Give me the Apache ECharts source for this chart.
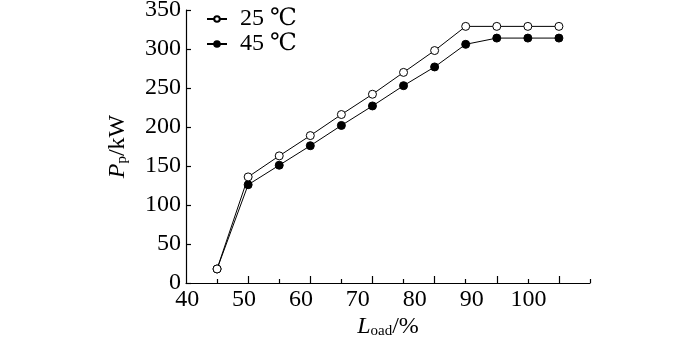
<!DOCTYPE html>
<html>
<head>
<meta charset="utf-8">
<script src="https://cdn.jsdelivr.net/npm/echarts@6/dist/echarts.min.js"></script>
<style>
  html, body { margin: 0; padding: 0; background: #fff; }
  #chart { width: 700px; height: 341px; }
</style>
</head>
<body>
<div id="chart"></div>
<script>
// Load levels (%) at which power was measured
const loads = [45, 50, 55, 60, 65, 70, 75, 80, 85, 90, 95, 100];
// Power P_p (kW) at ambient 25 ℃ and 45 ℃
const power25 = [18, 136, 163, 189, 216, 242, 270, 298, 329, 329, 329, 329];
const power45 = [18, 126, 151, 176, 202, 227, 253, 277, 306, 314, 314, 314];
// Printed tick labels along the load axis
const loadTickLabels = [40, 50, 60, 70, 80, 90, 100];
const longTicks = [50, 60, 70, 80, 90, 100];
const shortTicks = [45, 55, 65, 75, 85, 95, 105];
const seriesNames = ['25 ℃', '45 ℃'];

const FONT = 'Liberation Serif, DejaVu Serif, Noto Sans CJK SC, serif';
const chart = echarts.init(document.getElementById('chart'), null, { renderer: 'canvas' });

const pairs = arr => loads.map((x, i) => [x, arr[i]]);

chart.setOption({
  animation: false,
  backgroundColor: '#fff',
  textStyle: { fontFamily: FONT, color: '#000' },
  grid: { left: 186, right: 110, top: 10, bottom: 58, containLabel: false, outerBoundsMode: 'none' },
  legend: {
    orient: 'vertical',
    left: 201,
    top: 2,
    itemWidth: 20,
    itemHeight: 7,
    itemGap: 1,
    formatter: '{t|{name}}',
    textStyle: {
      fontFamily: FONT, fontSize: 24, lineHeight: 23, color: '#000',
      rich: { t: { fontFamily: FONT, fontSize: 24, lineHeight: 23, color: '#000', padding: [0, 0, 0, 8] } }
    },
    data: seriesNames
  },
  xAxis: [
    {
      type: 'value', min: 40, max: 105, interval: 5, position: 'bottom',
      axisLine: { show: true, lineStyle: { color: '#000', width: 1.2 } },
      axisTick: { show: true, inside: true, length: 7, customValues: longTicks, lineStyle: { color: '#000', width: 1.2 } },
      axisLabel: { show: false },
      splitLine: { show: false },
      name: '{i|L}{s|oad}{n|/%}',
      nameLocation: 'middle',
      nameGap: 31,
      nameTextStyle: {
        rich: {
          i: { fontFamily: FONT, fontStyle: 'italic', fontSize: 24, color: '#000' },
          s: { fontFamily: FONT, fontSize: 15, color: '#000', padding: [10, 0, 0, 0] },
          n: { fontFamily: FONT, fontSize: 24, color: '#000' }
        }
      }
    },
    {
      type: 'value', min: 40, max: 105, interval: 5, position: 'bottom', offset: 0,
      axisLine: { show: false },
      axisTick: { show: true, inside: true, length: 4, customValues: shortTicks, lineStyle: { color: '#000', width: 1.2 } },
      axisLabel: { show: false },
      splitLine: { show: false }
    },
    {
      type: 'value', min: 39.8, max: 110.8, position: 'bottom', offset: 0,
      axisLine: { show: false },
      axisTick: { show: false },
      axisLabel: {
        show: true, customValues: loadTickLabels, margin: 5,
        fontFamily: FONT, fontSize: 24, color: '#000'
      },
      splitLine: { show: false }
    }
  ],
  yAxis: {
    type: 'value', min: 0, max: 350, interval: 50,
    axisLine: { show: true, lineStyle: { color: '#000', width: 1.2 } },
    axisTick: { show: true, inside: true, length: 5, lineStyle: { color: '#000', width: 1.2 } },
    axisLabel: { fontFamily: FONT, fontSize: 24, color: '#000', margin: 5 },
    splitLine: { show: false },
    name: '{i|P}{s|p}{n|/kW}',
    nameLocation: 'middle',
    nameGap: 56,
    nameTextStyle: {
      rich: {
        i: { fontFamily: FONT, fontStyle: 'italic', fontSize: 24, color: '#000' },
        s: { fontFamily: FONT, fontSize: 15, color: '#000', padding: [10, 0, 0, 0] },
        n: { fontFamily: FONT, fontSize: 24, color: '#000' }
      }
    }
  },
  series: [
    {
      name: seriesNames[0], type: 'line', xAxisIndex: 0,
      data: pairs(power25),
      symbol: 'circle', symbolSize: 8,
      lineStyle: { color: '#000', width: 1 },
      itemStyle: { color: '#fff', borderColor: '#000', borderWidth: 1 },
      z: 3
    },
    {
      name: seriesNames[1], type: 'line', xAxisIndex: 0,
      data: pairs(power45),
      symbol: 'circle', symbolSize: 8,
      lineStyle: { color: '#000', width: 1 },
      itemStyle: { color: '#000', borderColor: '#000', borderWidth: 1 },
      z: 2
    }
  ]
});
</script>
</body>
</html>
